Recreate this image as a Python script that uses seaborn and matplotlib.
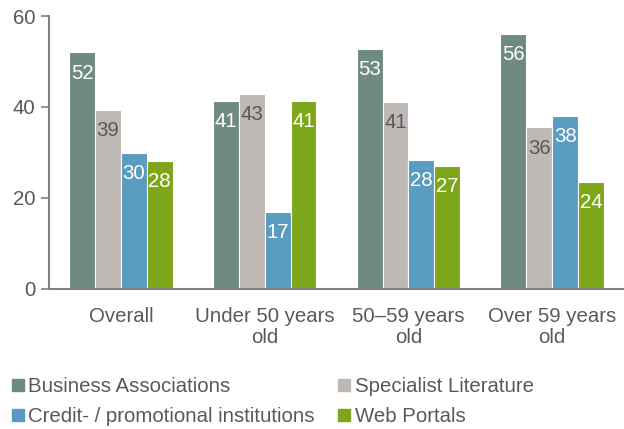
import matplotlib
matplotlib.use("Agg")
import matplotlib.pyplot as plt
from matplotlib.lines import Line2D
import seaborn as sns
import pandas as pd

groups = ["Overall", "Under 50 years\nold", "50\u201359 years\nold", "Over 59 years\nold"]
series = ["Business Associations", "Specialist Literature",
          "Credit- / promotional institutions", "Web Portals"]
business = [52.0, 41.3, 52.7, 56.0]
literature = [39.3, 42.9, 41.1, 35.5]
credit = [30.0, 16.9, 28.4, 38.1]
web = [28.1, 41.3, 27.0, 23.6]
colors = ["#6F8A7E", "#BFB9B5", "#5A9BC0", "#7DA619"]
label_colors = ["white", "#595959", "white", "white"]

rows = []
for name, vals in zip(series, [business, literature, credit, web]):
    for g, v in zip(groups, vals):
        rows.append({"group": g, "series": name, "value": v})
df = pd.DataFrame(rows)

sns.set_style("white")
plt.rcParams["font.family"] = ["Liberation Sans", "DejaVu Sans"]
grey = "#595959"
fs = 14.7

fig = plt.figure(figsize=(6.24, 4.29), dpi=100)
ax = fig.add_axes([49 / 624, 1 - 289 / 429, 1 - 49 / 624, 273 / 429])

sns.barplot(data=df, x="group", y="value", hue="series", order=groups,
            hue_order=series, palette=colors, width=0.72, saturation=1,
            edgecolor="white", linewidth=0.8, legend=False, ax=ax)

for container, col in zip(ax.containers, label_colors):
    for bar in container:
        h = bar.get_height()
        ax.annotate(f"{h:.0f}", (bar.get_x() + bar.get_width() / 2, h),
                    xytext=(0, -8), textcoords="offset points",
                    ha="center", va="top", color=col, fontsize=fs)

ax.set_ylim(0, 60)
ax.set_xlim(-0.5, 3.5)
ax.set_yticks([0, 20, 40, 60])
ax.set_xticks(range(4))
ax.set_xticklabels(groups, linespacing=1.12)
ax.set_xticks([-0.5, 0.5, 1.5, 2.5, 3.5], minor=True)
ax.tick_params(axis="x", which="major", length=0, pad=13, labelsize=fs, labelcolor=grey)
ax.tick_params(axis="x", which="minor", length=6, width=1.2, color="#808080", direction="out")
ax.tick_params(axis="y", length=6, width=1.2, color="#808080", labelsize=fs,
               labelcolor=grey, pad=4, left=True)
ax.set_xlabel("")
ax.set_ylabel("")
for s in ["top", "right"]:
    ax.spines[s].set_visible(False)
for s in ["left", "bottom"]:
    ax.spines[s].set_color("#808080")
    ax.spines[s].set_linewidth(1.5)

# matplotlib fills legend columns first, so reorder for row-wise reading
order = [0, 2, 1, 3]
handles = [Line2D([], [], marker="s", linestyle="none", markersize=8,
                  color=colors[i]) for i in order]
fig.legend(handles, [series[i] for i in order], loc="upper left",
           bbox_to_anchor=(12 / 624, 1 - 377 / 429),
           ncol=2, frameon=False, fontsize=fs, labelcolor=grey, borderpad=0,
           borderaxespad=0, handlelength=0.55, handletextpad=0.25,
           columnspacing=1.15, labelspacing=0.55)

fig.savefig("out.png", dpi=100)
